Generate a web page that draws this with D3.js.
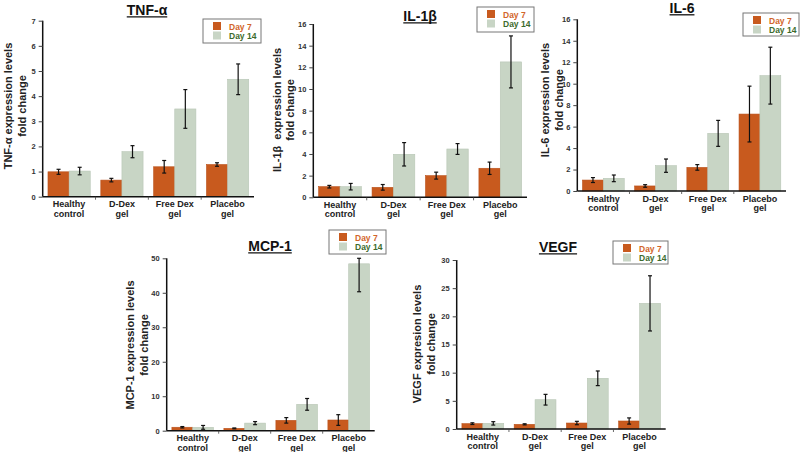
<!DOCTYPE html>
<html><head><meta charset="utf-8">
<script src="https://cdn.jsdelivr.net/npm/d3@7"></script>
<style>body{margin:0;background:#fff}svg{display:block;font-family:"Liberation Sans",Arial,sans-serif}</style>
</head><body><svg id="c" width="800" height="452"></svg>
<script>
const categories = [["Healthy","control"],["D-Dex","gel"],["Free Dex","gel"],["Placebo","gel"]];
const seriesNames = ["Day 7","Day 14"];

const tnfDay7 = [0.99, 0.66, 1.19, 1.28], tnfDay7Err = [0.10, 0.07, 0.25, 0.07];
const tnfDay14 = [1.02, 1.79, 3.49, 4.67], tnfDay14Err = [0.15, 0.24, 0.77, 0.61];
const il1bDay7 = [0.98, 0.92, 2.00, 2.68], il1bDay7Err = [0.12, 0.26, 0.32, 0.57];
const il1bDay14 = [0.98, 3.97, 4.46, 12.5], il1bDay14Err = [0.30, 1.08, 0.50, 2.40];
const il6Day7 = [1.02, 0.47, 2.20, 7.17], il6Day7Err = [0.23, 0.12, 0.26, 2.60];
const il6Day14 = [1.18, 2.36, 5.37, 10.75], il6Day14Err = [0.31, 0.62, 1.21, 2.65];
const mcpDay7 = [1.00, 0.68, 3.00, 3.10], mcpDay7Err = [0.20, 0.12, 0.80, 1.55];
const mcpDay14 = [0.97, 2.20, 7.64, 48.4], mcpDay14Err = [0.55, 0.45, 1.70, 8.10];
const vegfDay7 = [0.95, 0.83, 1.06, 1.42], vegfDay7Err = [0.15, 0.10, 0.30, 0.55];
const vegfDay14 = [1.00, 5.20, 9.00, 22.3], vegfDay14Err = [0.30, 0.95, 1.30, 4.90];

const tnfTicks = [0,1,2,3,4,5,6,7];
const il1bTicks = [0,2,4,6,8,10,12,14,16];
const il6Ticks = [0,2,4,6,8,10,12,14,16];
const mcpTicks = [0,10,20,30,40,50];
const vegfTicks = [0,5,10,15,20,25,30];

const colors = {"Day 7":"#c85a1e","Day 14":"#c8d5c5"};
const textColors = {"Day 7":"#d2652b","Day 14":"#3d6b2d"};

const panels = [
 {title:"TNF-α", ylab:["TNF-α expression levels","fold change"], d7:tnfDay7, e7:tnfDay7Err, d14:tnfDay14, e14:tnfDay14Err, ticks:tnfTicks,
  x0:42.7, x1:254, yT:20.7, yB:196.7, tx:147, ty:15, lx:[8,22], ly:106, leg:[203,19,58,24]},
 {title:"IL-1β", ylab:["IL-1β  expression levels","fold change"], d7:il1bDay7, e7:il1bDay7Err, d14:il1bDay14, e14:il1bDay14Err, ticks:il1bTicks,
  x0:313.3, x1:527, yT:24, yB:197.3, tx:420, ty:21, lx:[277,290], ly:110, leg:[477,7,57,25]},
 {title:"IL-6", ylab:["IL-6 expression levels","fold change"], d7:il6Day7, e7:il6Day7Err, d14:il6Day14, e14:il6Day14Err, ticks:il6Ticks,
  x0:577.3, x1:786, yT:19.3, yB:191, tx:682, ty:13, lx:[545,559], ly:100, leg:[743,13,56,23]},
 {title:"MCP-1", ylab:["MCP-1 expression levels","fold change"], d7:mcpDay7, e7:mcpDay7Err, d14:mcpDay14, e14:mcpDay14Err, ticks:mcpTicks,
  x0:166.7, x1:374.7, yT:258.3, yB:430.7, tx:270, ty:251, lx:[130,144], ly:345, leg:[329,230,57,24]},
 {title:"VEGF", ylab:["VEGF expresion levels","fold change"], d7:vegfDay7, e7:vegfDay7Err, d14:vegfDay14, e14:vegfDay14Err, ticks:vegfTicks,
  x0:456.7, x1:665.7, yT:260, yB:429, tx:558, ty:252, lx:[417,431], ly:344, leg:[613,241,55,23]}
];

const svg = d3.select("#c");
panels.forEach(p => {
  const g = svg.append("g");
  const ymax = p.ticks[p.ticks.length-1];
  const y = d3.scaleLinear().domain([0, ymax]).range([p.yB, p.yT]);
  const x = d3.scaleBand().domain(d3.range(categories.length)).range([p.x0, p.x1]).padding(0);
  const xs = d3.scaleBand().domain(seriesNames).range([0, x.bandwidth()]).paddingInner(0).paddingOuter(0.25);
  const rows = [];
  categories.forEach((c,i) => {
    rows.push({i, s:"Day 7", v:p.d7[i], e:p.e7[i]});
    rows.push({i, s:"Day 14", v:p.d14[i], e:p.e14[i]});
  });
  g.selectAll("rect.bar").data(rows).join("rect")
    .attr("x", d => x(d.i) + xs(d.s)).attr("width", xs.bandwidth())
    .attr("y", d => y(d.v)).attr("height", d => y(0) - y(d.v))
    .attr("fill", d => colors[d.s]).attr("stroke", d => d.s==="Day 7" ? "#b9501a" : "#b8c6b5").attr("stroke-width",0.6);
  const eb = g.selectAll("g.eb").data(rows).join("g");
  const cx = d => x(d.i) + xs(d.s) + xs.bandwidth()/2;
  const top = d => y(Math.min(ymax, d.v + d.e));
  const bot = d => y(Math.max(0, d.v - d.e));
  eb.append("line").attr("x1", cx).attr("x2", cx).attr("y1", top).attr("y2", bot).attr("stroke","#111").attr("stroke-width",1.2);
  eb.append("line").attr("x1", d=>cx(d)-2).attr("x2", d=>cx(d)+2).attr("y1", top).attr("y2", top).attr("stroke","#111").attr("stroke-width",1.2);
  eb.append("line").attr("x1", d=>cx(d)-2).attr("x2", d=>cx(d)+2).attr("y1", bot).attr("y2", bot).attr("stroke","#111").attr("stroke-width",1.2);
  const ya = g.append("g").attr("transform", `translate(${p.x0},0)`)
    .call(d3.axisLeft(y).tickValues(p.ticks).tickFormat(d3.format("d")).tickSize(4).tickPadding(3));
  ya.select(".domain").attr("stroke","#111").attr("stroke-width",1.5).attr("d", `M0,${p.yT}V${p.yB}`);
  ya.selectAll(".tick line").attr("stroke","#444");
  ya.selectAll(".tick text").attr("font-size",7.5).attr("font-weight","bold").attr("fill","#333").attr("font-family","Liberation Sans,Arial,sans-serif");
  const xa = g.append("g").attr("transform", `translate(0,${p.yB})`)
    .call(d3.axisBottom(x).tickValues([]).tickSize(0));
  xa.select(".domain").attr("stroke","#111").attr("stroke-width",1.5).attr("d", `M${p.x0},0H${p.x1}`);
  g.selectAll("line.sep").data(d3.range(1, categories.length)).join("line")
    .attr("x1", i => x(i)).attr("x2", i => x(i)).attr("y1", p.yB).attr("y2", p.yB+3).attr("stroke","#444").attr("stroke-width",0.8);
  categories.forEach((c,i) => {
    const t = g.append("text").attr("x", x(i)+x.bandwidth()/2).attr("y", p.yB+10.5)
      .attr("text-anchor","middle").attr("font-size",9).attr("font-weight","bold").attr("fill","#222");
    c.forEach((line,k) => t.append("tspan").attr("x", x(i)+x.bandwidth()/2).attr("dy", k===0?0:9.5).text(line));
  });
  p.ylab.forEach((line,k) => {
    g.append("text").attr("transform", `translate(${p.lx[k]},${p.ly}) rotate(-90)`)
      .attr("text-anchor","middle").attr("dominant-baseline","central")
      .attr("font-size",11).attr("font-weight","bold").attr("fill","#222").style("white-space","pre").text(line);
  });
  const tt = g.append("text").attr("x", p.tx).attr("y", p.ty).attr("text-anchor","middle")
    .attr("font-size",14).attr("font-weight","bold").attr("fill","#111").text(p.title);
  const w = tt.node().getComputedTextLength();
  g.append("line").attr("x1", p.tx - w/2).attr("x2", p.tx + w/2).attr("y1", p.ty+1.8).attr("y2", p.ty+1.8).attr("stroke","#111").attr("stroke-width",1.3);
  const [lx, ly, lw, lh] = p.leg;
  const lg = g.append("g");
  lg.append("rect").attr("x", lx).attr("y", ly).attr("width", lw).attr("height", lh).attr("fill","#fff").attr("stroke","#777").attr("stroke-width",1);
  seriesNames.forEach((s,k) => {
    lg.append("rect").attr("x", lx+10).attr("y", ly+3+k*9.5).attr("width",8).attr("height",8).attr("fill", colors[s]);
    lg.append("text").attr("x", lx+26).attr("y", ly+10.5+k*9.5).attr("font-size",8.5).attr("font-weight","bold").attr("fill", textColors[s]).text(s);
  });
});
</script></body></html>
